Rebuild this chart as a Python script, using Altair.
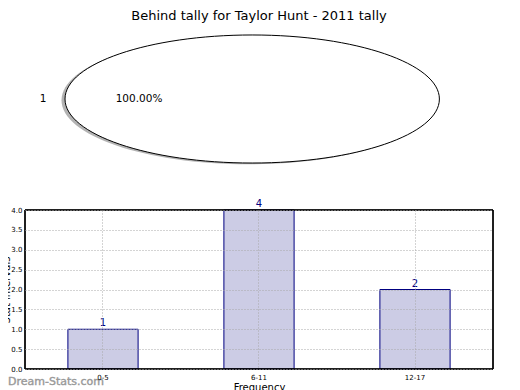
import altair as alt
import pandas as pd

# ---- data ----
pie_labels = ["1"]
pie_values = [1]
categories = ["0-5", "6-11", "12-17"]
counts = [1, 4, 2]
y_ticks = [0.0, 0.5, 1.0, 1.5, 2.0, 2.5, 3.0, 3.5, 4.0]
title_text = "Behind tally for Taylor Hunt - 2011 tally"
watermark = "Dream-Stats.com"

FONT = "DejaVu Sans"

pie_df = pd.DataFrame({"label": pie_labels, "value": pie_values})
pie_df["pct"] = [f"{100 * v / sum(pie_values):.2f}%" for v in pie_values]
bar_df = pd.DataFrame({"cat": categories, "count": counts})

# ellipse shape (a pie stretched horizontally), unit box [-1, 1]
b = 0.342
k = 0.5523
kb = round(k * b, 4)
ELLIPSE = (f"M -1 0 C -1 -{kb} -{k} -{b} 0 -{b} C {k} -{b} 1 -{kb} 1 0 "
           f"C 1 {kb} {k} {b} 0 {b} C -{k} {b} -1 {kb} -1 0 Z")
ESIZE = 374.4 ** 2

W, H = 468, 159

x_enc = alt.X("cat:N", sort=categories,
              scale=alt.Scale(paddingInner=0.55, paddingOuter=0.275),
              axis=alt.Axis(title="Frequency", labelAngle=0, labelFontSize=7,
                            labelColor="black", labelPadding=4, ticks=False,
                            domain=False, grid=True, gridDash=[1, 2],
                            gridColor="#a8a8a8", bandPosition=0.5,
                            titleFontSize=10, titleFontWeight="normal",
                            titlePadding=2, titleColor="black", zindex=1))
y_enc = alt.Y("count:Q",
              scale=alt.Scale(domain=[0, 4], nice=False, zero=True),
              axis=alt.Axis(title="Stat intervals", values=y_ticks, format=".1f",
                            labelFontSize=7, labelColor="black", labelPadding=3,
                            labelOverlap=False, tickCount=9,
                            ticks=False, domain=False, grid=True,
                            gridDash=[1, 2], gridColor="#a8a8a8",
                            titleFontSize=10, titleFontWeight="normal",
                            titleColor="black", titleAngle=-90,
                            titleX=-14, titleY=H / 2, titleBaseline="bottom",
                            titleAlign="center", zindex=1))

bars = alt.Chart(bar_df).mark_bar(
    fill="#ccccE5", stroke="#000080", strokeWidth=1, opacity=1
).encode(x=x_enc, y=y_enc)

bar_text = alt.Chart(bar_df).mark_text(
    baseline="bottom", dy=-1, fontSize=10, color="#000080", font=FONT
).encode(x=x_enc, y=y_enc, text="count:Q")

frame = alt.Chart(bar_df).mark_rect(
    fill=None, fillOpacity=0, stroke="black", strokeWidth=1
).encode(x=alt.value(0), x2=alt.value(W), y=alt.value(0), y2=alt.value(H))

shadow = alt.Chart(pie_df).mark_point(
    shape=ELLIPSE, filled=True, fill="#808080", opacity=0.6, strokeWidth=0
).encode(x=alt.value(227.2 - 3.5), y=alt.value(-111 + 1.3), size=alt.value(ESIZE))

ellipse = alt.Chart(pie_df).mark_point(
    shape=ELLIPSE, filled=True, fill="white", stroke="black", strokeWidth=1,
    opacity=1, strokeOpacity=1, fillOpacity=1
).encode(x=alt.value(227.2), y=alt.value(-111), size=alt.value(ESIZE))

pie_label = alt.Chart(pie_df).mark_text(
    fontSize=10.5, color="black", font=FONT, align="center", baseline="middle"
).encode(x=alt.value(18), y=alt.value(-111), text="label:N")

pie_pct = alt.Chart(pie_df).mark_text(
    fontSize=10.5, color="black", font=FONT, align="center", baseline="middle"
).encode(x=alt.value(114), y=alt.value(-111), text="pct:N")

title = alt.Chart(pd.DataFrame({"t": [title_text]})).mark_text(
    fontSize=13, color="black", font=FONT, align="center", baseline="middle"
).encode(x=alt.value(234), y=alt.value(-194), text="t:N")

wm = alt.Chart(pd.DataFrame({"t": [watermark]})).mark_text(
    fontSize=11, fontWeight="normal", color="#999999", font=FONT,
    align="left", baseline="alphabetic", stroke="#999999", strokeWidth=0.4
).encode(x=alt.value(-17), y=alt.value(175), text="t:N")

chart = alt.layer(title, shadow, ellipse, pie_label, pie_pct, bars, bar_text,
                  frame, wm).properties(
    width=W, height=H,
    autosize=alt.AutoSizeParams(type="none"),
    padding={"left": 17, "top": 202, "right": 19, "bottom": 21},
).configure(font=FONT, background="white").configure_view(
    stroke=None
)

chart.save("out.html", embed_options={"renderer": "svg", "actions": False})
